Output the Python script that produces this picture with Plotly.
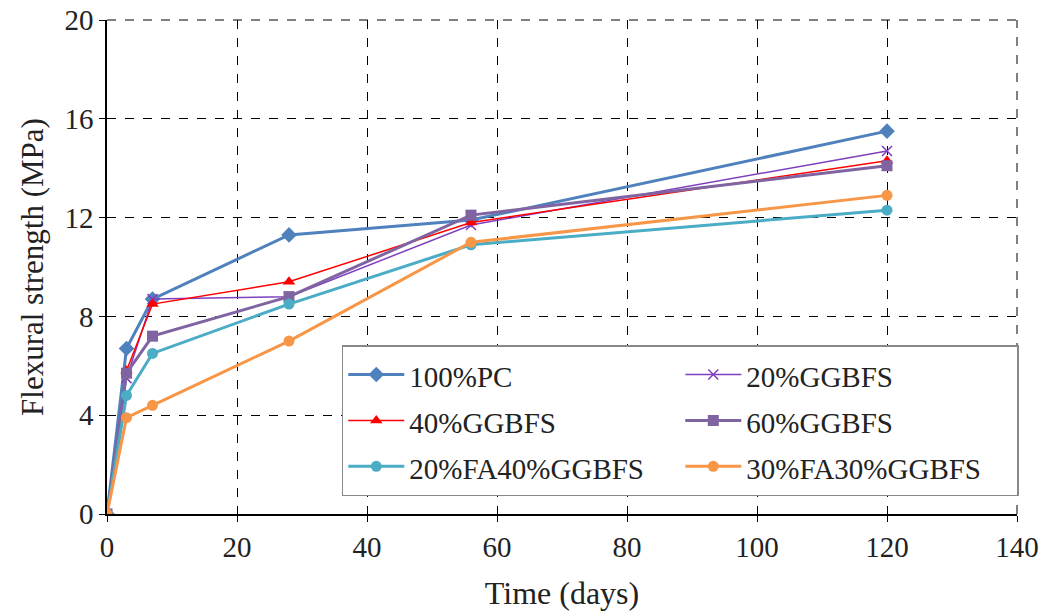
import plotly.graph_objects as go

days = [0, 3, 7, 28, 56, 120]
pc100 = [0, 6.7, 8.7, 11.3, 11.9, 15.5]
ggbfs20 = [0, 5.5, 8.7, 8.8, 11.7, 14.7]
ggbfs40 = [0, 5.8, 8.5, 9.4, 11.8, 14.3]
ggbfs60 = [0, 5.7, 7.2, 8.8, 12.1, 14.1]
fa20ggbfs40 = [0, 4.8, 6.5, 8.5, 10.9, 12.3]
fa30ggbfs30 = [0, 3.9, 4.4, 7.0, 11.0, 12.9]

series = [
    ("100%PC", pc100, "#4F81BD", 3, "diamond", 12),
    ("20%GGBFS", ggbfs20, "#7F3FBF", 1.5, "x-thin-open", 10),
    ("40%GGBFS", ggbfs40, "#FF0000", 1.5, "triangle-up", 11),
    ("60%GGBFS", ggbfs60, "#8064A2", 3, "square", 11),
    ("20%FA40%GGBFS", fa20ggbfs40, "#4BACC6", 3, "circle", 11),
    ("30%FA30%GGBFS", fa30ggbfs30, "#F79646", 3, "circle", 11),
]

fig = go.Figure()
for name, vals, color, lw, sym, ms in series:
    fig.add_trace(go.Scatter(
        x=days, y=vals, name="<span style='font-size:29px'>%s</span>" % name,
        mode="lines+markers",
        line=dict(color=color, width=lw),
        marker=dict(symbol=sym, size=ms, color=color,
                    line=dict(color=color, width=1.5 if "open" in sym else 0)),
    ))

# invisible trace so the overlay (crossing-tick) axes get drawn
fig.add_trace(go.Scatter(x=days, y=pc100, xaxis="x2", yaxis="y2", mode="lines",
                         line=dict(width=0), opacity=0, showlegend=False, hoverinfo="skip"))

serif = "Liberation Serif"
txt = "#222"
fig.update_layout(
    width=1044, height=611,
    margin=dict(l=107, r=27, t=20, b=97, autoexpand=False),
    paper_bgcolor="white", plot_bgcolor="white",
    font=dict(family=serif, size=28, color=txt),
    legend=dict(
        orientation="h", x=0.258, y=0.342, xanchor="left", yanchor="top",
        entrywidth=266, entrywidthmode="pixels",
        bgcolor="white", bordercolor="#888", borderwidth=1.5,
        font=dict(family=serif, size=33, color=txt),
        itemwidth=56,
    ),
    xaxis2=dict(overlaying="x", anchor="y", side="bottom", range=[0, 140], dtick=20,
                ticks="inside", ticklen=6, tickcolor="black", showticklabels=False,
                showgrid=False, zeroline=False, showline=False),
    yaxis2=dict(overlaying="y", anchor="x", side="left", range=[0, 20], dtick=4,
                ticks="inside", ticklen=6, tickcolor="black", showticklabels=False,
                showgrid=False, zeroline=False, showline=False),
    shapes=[
        dict(type="line", xref="paper", yref="paper", x0=0, x1=1, y0=1, y1=1,
             line=dict(color="black", width=1, dash="dash")),
        dict(type="line", xref="paper", yref="paper", x0=1, x1=1, y0=0, y1=1,
             line=dict(color="black", width=1, dash="dash")),
    ],
)
fig.update_layout(xaxis=dict(
    range=[0, 140], dtick=20, tick0=0,
    showgrid=True, gridcolor="black", griddash="dash", gridwidth=1,
    showline=True, linecolor="black", linewidth=1.5, mirror=False,
    ticks="outside", ticklen=6, tickcolor="black",
    tickfont=dict(family=serif, size=29, color=txt), ticklabeloverflow="allow",
    zeroline=False, automargin=False,
    title=dict(text="Time (days)", standoff=22, font=dict(family=serif, size=32, color=txt)),
))
fig.update_layout(yaxis=dict(
    range=[0, 20], dtick=4, tick0=0,
    showgrid=True, gridcolor="black", griddash="dash", gridwidth=1,
    showline=True, linecolor="black", linewidth=1.5,
    ticks="outside", ticklen=6, tickcolor="black",
    tickfont=dict(family=serif, size=29, color=txt), ticklabeloverflow="allow",
    zeroline=False, automargin=False,
    title=dict(text="Flexural strength (MPa)", standoff=12, font=dict(family=serif, size=31, color=txt)),
))
fig.write_html("out.html", config={"displayModeBar": False},
               post_script="document.body.style.margin='0';")
